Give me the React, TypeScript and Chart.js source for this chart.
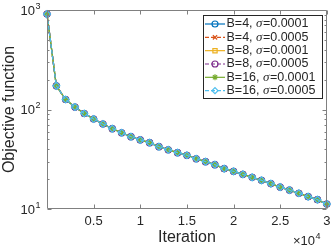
import React, { useEffect, useRef } from 'react';
import { Chart, registerables } from 'chart.js';
import { drawPoint } from 'chart.js/helpers';

Chart.register(...registerables);

const ITERATIONS = [
  0, 1000, 2000, 3000, 4000, 5000, 6000, 7000, 8000, 9000, 10000,
  11000, 12000, 13000, 14000, 15000, 16000, 17000, 18000, 19000, 20000,
  21000, 22000, 23000, 24000, 25000, 26000, 27000, 28000, 29000, 30000,
];

const B4_S0001 = [910, 173, 126, 106, 91.2, 80.3, 71.5, 64.1, 58.4, 53.3, 49.4, 46.4, 42.3, 39.4, 36.8, 34.7, 32.0, 29.9, 27.9, 25.4, 23.9, 22.3, 20.8, 19.4, 18.0, 16.6, 15.5, 14.4, 13.3, 12.4, 11.2];
const B4_S0005 = [910, 173, 126, 106, 91.2, 80.3, 71.5, 64.1, 58.4, 53.3, 49.4, 46.4, 42.3, 39.4, 36.8, 34.7, 32.0, 29.9, 27.9, 25.4, 23.9, 22.3, 20.8, 19.4, 18.0, 16.6, 15.5, 14.4, 13.3, 12.4, 11.2];
const B8_S0001 = [910, 173, 126, 106, 91.2, 80.3, 71.5, 64.1, 58.4, 53.3, 49.4, 46.4, 42.3, 39.4, 36.8, 34.7, 32.0, 29.9, 27.9, 25.4, 23.9, 22.3, 20.8, 19.4, 18.0, 16.6, 15.5, 14.4, 13.3, 12.4, 11.2];
const B8_S0005 = [910, 173, 126, 106, 91.2, 80.3, 71.5, 64.1, 58.4, 53.3, 49.4, 46.4, 42.3, 39.4, 36.8, 34.7, 32.0, 29.9, 27.9, 25.4, 23.9, 22.3, 20.8, 19.4, 18.0, 16.6, 15.5, 14.4, 13.3, 12.4, 11.2];
const B16_S0001 = [910, 173, 126, 106, 91.2, 80.3, 71.5, 64.1, 58.4, 53.3, 49.4, 46.4, 42.3, 39.4, 36.8, 34.7, 32.0, 29.9, 27.9, 25.4, 23.9, 22.3, 20.8, 19.4, 18.0, 16.6, 15.5, 14.4, 13.3, 12.4, 11.2];
const B16_S0005 = [910, 173, 126, 106, 91.2, 80.3, 71.5, 64.1, 58.4, 53.3, 49.4, 46.4, 42.3, 39.4, 36.8, 34.7, 32.0, 29.9, 27.9, 25.4, 23.9, 22.3, 20.8, 19.4, 18.0, 16.6, 15.5, 14.4, 13.3, 12.4, 11.2];

const SERIES_B = ['4', '4', '8', '8', '16', '16'];
const SERIES_SIGMA = ['0.0001', '0.0005', '0.0001', '0.0005', '0.0001', '0.0005'];
const SERIES_VALUES = [B4_S0001, B4_S0005, B8_S0001, B8_S0005, B16_S0001, B16_S0005];
const SERIES_COLORS = ['#0072BD', '#D95319', '#EDB120', '#7E2F8E', '#77AC30', '#4DBEEE'];
const SERIES_MARKERS = ['circle', 'crossRot', 'rect', 'circle', 'star', 'rectRot'];
const SERIES_DASHED = [false, true, false, true, false, true];

const X_TICKS = [5000, 10000, 15000, 20000, 25000, 30000];
const X_TICK_LABELS = ['0.5', '1', '1.5', '2', '2.5', '3'];
const Y_TICKS = [10, 100, 1000];
const Y_TICK_EXPONENTS = ['1', '2', '3'];
const Y_MINOR_TICKS = [20, 30, 40, 50, 60, 70, 80, 90, 200, 300, 400, 500, 600, 700, 800, 900];

const X_TITLE = 'Iteration';
const Y_TITLE = 'Objective function';
const X_MULTIPLIER_BASE = '×10';
const X_MULTIPLIER_EXP = '4';

const FONT = '"Liberation Sans", Arial, sans-serif';
const TEXT_COLOR = '#262626';
const AXIS_COLOR = '#808080';

const matlabPlugin = {
  id: 'matlabAxes',
  afterDatasetsDraw(chart: any) {
    const { ctx, chartArea: a, scales } = chart;
    const x = scales.x;
    const y = scales.y;
    const L = Math.round(a.left) + 0.5;
    const R = Math.round(a.right) - 0.5;
    const T = Math.round(a.top) + 0.5;
    const B = Math.round(a.bottom) - 0.5;
    ctx.save();
    ctx.strokeStyle = AXIS_COLOR;
    ctx.lineWidth = 1;
    ctx.beginPath();
    ctx.rect(L, T, R - L, B - T);
    ctx.stroke();
    ctx.beginPath();
    for (const v of X_TICKS) {
      const px = Math.round(x.getPixelForValue(v)) + 0.5;
      ctx.moveTo(px, B); ctx.lineTo(px, B - 4);
      ctx.moveTo(px, T); ctx.lineTo(px, T + 4);
    }
    for (const v of Y_TICKS) {
      const py = Math.round(y.getPixelForValue(v)) + 0.5;
      ctx.moveTo(L, py); ctx.lineTo(L + 4, py);
      ctx.moveTo(R, py); ctx.lineTo(R - 4, py);
    }
    for (const v of Y_MINOR_TICKS) {
      const py = Math.round(y.getPixelForValue(v)) + 0.5;
      ctx.moveTo(L, py); ctx.lineTo(L + 2, py);
      ctx.moveTo(R, py); ctx.lineTo(R - 2, py);
    }
    ctx.stroke();
    ctx.restore();
  },
  afterDraw(chart: any) {
    const { ctx, chartArea: a, scales } = chart;
    const x = scales.x;
    const y = scales.y;
    ctx.save();
    ctx.fillStyle = TEXT_COLOR;
    ctx.font = `13px ${FONT}`;
    ctx.textAlign = 'center';
    ctx.textBaseline = 'alphabetic';
    X_TICKS.forEach((v, i) => {
      ctx.fillText(X_TICK_LABELS[i], x.getPixelForValue(v), a.bottom + 16);
    });
    Y_TICKS.forEach((v, i) => {
      const py = y.getPixelForValue(v);
      ctx.font = `13px ${FONT}`;
      ctx.textAlign = 'right';
      ctx.fillText('10', a.left - 12, py + 4.6);
      ctx.font = `9px ${FONT}`;
      ctx.textAlign = 'left';
      ctx.fillText(Y_TICK_EXPONENTS[i], a.left - 11.5, py - 1.5);
    });
    ctx.font = `16px ${FONT}`;
    ctx.textAlign = 'center';
    ctx.fillText(X_TITLE, (a.left + a.right) / 2, a.bottom + 33);
    ctx.save();
    ctx.translate(14, (a.top + a.bottom) / 2);
    ctx.rotate(-Math.PI / 2);
    ctx.fillText(Y_TITLE, 0, 0);
    ctx.restore();
    ctx.font = `13px ${FONT}`;
    ctx.textAlign = 'left';
    ctx.fillText(X_MULTIPLIER_BASE, 293, a.bottom + 36);
    const w = ctx.measureText(X_MULTIPLIER_BASE).width;
    ctx.font = `9px ${FONT}`;
    ctx.fillText(X_MULTIPLIER_EXP, 293 + w + 0.5, a.bottom + 30);

    const lx = 203, ly = 15, lw = 120, lh = 84;
    ctx.fillStyle = '#ffffff';
    ctx.fillRect(lx, ly, lw, lh);
    ctx.strokeStyle = '#262626';
    ctx.lineWidth = 1;
    ctx.strokeRect(lx + 0.5, ly + 0.5, lw - 1, lh - 1);
    SERIES_B.forEach((b, i) => {
      const ry = ly + 9 + i * 13.33;
      const color = SERIES_COLORS[i];
      ctx.save();
      ctx.strokeStyle = color;
      ctx.lineWidth = 1.2;
      ctx.setLineDash(SERIES_DASHED[i] ? [4, 2] : []);
      ctx.beginPath();
      ctx.moveTo(lx + 2, ry);
      ctx.lineTo(lx + 22, ry);
      ctx.stroke();
      ctx.setLineDash([]);
      ctx.fillStyle = 'rgba(0,0,0,0)';
      drawPoint(ctx, { pointStyle: SERIES_MARKERS[i], radius: 3, rotation: 0, borderWidth: 1.2 } as any, lx + 12, ry);
      ctx.restore();
      ctx.fillStyle = TEXT_COLOR;
      ctx.textBaseline = 'middle';
      ctx.textAlign = 'left';
      let tx = lx + 23.5;
      ctx.font = `12.5px ${FONT}`;
      const p1 = `B=${b}, `;
      ctx.fillText(p1, tx, ry);
      tx += ctx.measureText(p1).width;
      ctx.font = `italic 13px "Liberation Serif", serif`;
      ctx.fillText('σ', tx, ry);
      tx += ctx.measureText('σ').width + 0.5;
      ctx.font = `12.5px ${FONT}`;
      ctx.fillText(`=${SERIES_SIGMA[i]}`, tx, ry);
    });
    ctx.restore();
  },
};

export default function App() {
  const ref = useRef<HTMLCanvasElement | null>(null);
  useEffect(() => {
    document.body.style.margin = '0';
    const canvas = ref.current;
    if (!canvas) return;
    const datasets = SERIES_VALUES.map((vals, i) => ({
      label: `B=${SERIES_B[i]}, σ=${SERIES_SIGMA[i]}`,
      data: ITERATIONS.map((it, k) => ({ x: it, y: vals[k] })),
      borderColor: SERIES_COLORS[i],
      backgroundColor: 'rgba(0,0,0,0)',
      pointBackgroundColor: 'rgba(0,0,0,0)',
      pointBorderColor: SERIES_COLORS[i],
      pointStyle: SERIES_MARKERS[i],
      pointRadius: i === 5 ? 3.5 : 3,
      pointBorderWidth: 1.2,
      borderWidth: 1.3,
      borderDash: SERIES_DASHED[i] ? [4, 2] : [],
      tension: 0,
      clip: false as any,
      order: 5 - i,
    }));
    const chart = new Chart(canvas, {
      type: 'line',
      data: { datasets },
      options: {
        responsive: false,
        animation: false,
        devicePixelRatio: 1,
        layout: { padding: { left: 47, right: 4, top: 10, bottom: 40 } },
        plugins: { legend: { display: false }, tooltip: { enabled: false } },
        scales: {
          x: { type: 'linear', display: false, min: 0, max: 30000 },
          y: { type: 'logarithmic', display: false, min: 10, max: 1000 },
        },
      },
      plugins: [matlabPlugin],
    });
    return () => chart.destroy();
  }, []);
  return (
    <div style={{ width: 332, height: 249 }}>
      <canvas ref={ref} width={332} height={249} style={{ display: 'block' }} />
    </div>
  );
}
